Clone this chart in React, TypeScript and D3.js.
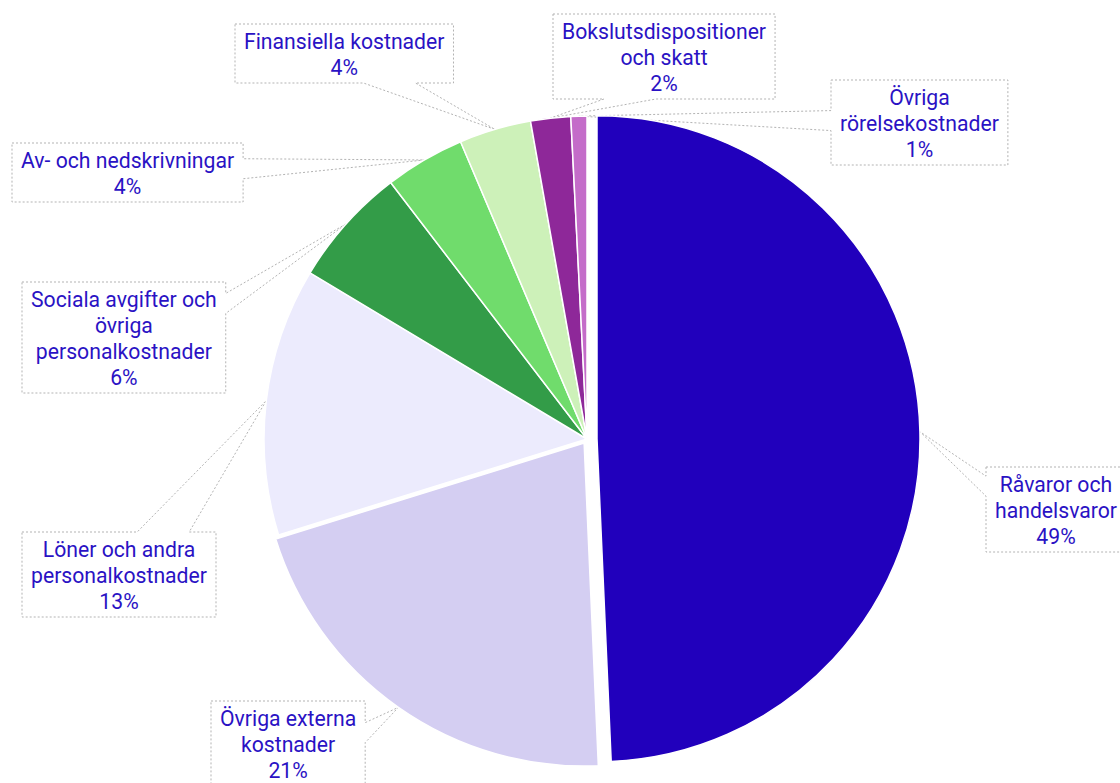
import React, { useEffect, useRef } from "react";
import * as d3 from "d3";

// ---- data ----
const categories = [
  "Råvaror och\nhandelsvaror",
  "Övriga externa\nkostnader",
  "Löner och andra\npersonalkostnader",
  "Sociala avgifter och\növriga\npersonalkostnader",
  "Av- och nedskrivningar",
  "Finansiella kostnader",
  "Bokslutsdispositioner\noch skatt",
  "Övriga\nrörelsekostnader",
];
const values = [49.3, 20.9, 13.4, 6.0, 4.0, 3.6, 2.0, 0.8];

// ---- styles / layout ----
const colors = ["#2100bc", "#d4cef2", "#ecebfd", "#339c48", "#70dc6c", "#cdf1b9", "#8e2899", "#c46cc9"];
const pulls = [10, 5, 0, 0, 0, 0, 0, 0];
// label box top-left corners
const labelBoxes: [number, number][] = [
  [986, 467],
  [211, 701],
  [22, 532],
  [22, 282],
  [12, 143],
  [235, 24],
  [553, 14],
  [831, 80],
];

const W = 1120;
const H = 783;
const CX = 587;
const CY = 439;
const R = 323;
const TEXT_COLOR = "#2a12c4";
const FONT = "Roboto, 'Noto Sans', sans-serif";
const FONT_SIZE = 21.2;
const LINE_H = 26;

export default function App() {
  const ref = useRef<SVGSVGElement>(null);

  useEffect(() => {
    const svg = d3.select(ref.current!);
    svg.selectAll("*").remove();

    const total = d3.sum(values);
    const arcs = d3
      .pie<number>()
      .sort(null)
      .value((d) => d)
      .startAngle(0)
      .endAngle(2 * Math.PI)(values);
    const arc = d3.arc<d3.PieArcDatum<number>>().innerRadius(0).outerRadius(R);

    const calloutG = svg.append("g");
    const pieG = svg.append("g").attr("transform", `translate(${CX},${CY})`);
    const textG = svg.append("g");

    arcs.forEach((p, i) => {
      const mid = (p.startAngle + p.endAngle) / 2;
      const ox = Math.sin(mid) * pulls[i];
      const oy = -Math.cos(mid) * pulls[i];
      pieG
        .append("path")
        .attr("d", arc(p) as string)
        .attr("transform", `translate(${ox},${oy})`)
        .attr("fill", colors[i])
        .attr("stroke", "#ffffff")
        .attr("stroke-width", 1.5)
        .attr("stroke-linejoin", "round");
    });

    arcs.forEach((p, i) => {
      const mid = (p.startAngle + p.endAngle) / 2;
      const ox = Math.sin(mid) * pulls[i];
      const oy = -Math.cos(mid) * pulls[i];
      const tx = CX + ox + Math.sin(mid) * R;
      const ty = CY + oy - Math.cos(mid) * R;

      const pct = Math.round((values[i] / total) * 100) + "%";
      const lines = [...categories[i].split("\n"), pct];
      const [x0, y0] = labelBoxes[i];

      const t = textG
        .append("text")
        .attr("font-family", FONT)
        .attr("font-size", FONT_SIZE)
        .attr("fill", TEXT_COLOR)
        .attr("text-anchor", "middle");
      const spans = lines.map((ln, k) =>
        t
          .append("tspan")
          .attr("y", y0 + 25 + k * LINE_H)
          .text(ln)
      );
      let maxW = 0;
      spans.forEach((s) => {
        const n = s.node() as SVGTSpanElement;
        maxW = Math.max(maxW, n.getComputedTextLength());
      });
      const bw = maxW + 18;
      const bh = lines.length * LINE_H + 7;
      const x1 = x0 + bw;
      const y1 = y0 + bh;
      spans.forEach((s) => s.attr("x", x0 + bw / 2));

      // callout side
      const dxOut = tx < x0 ? x0 - tx : tx > x1 ? tx - x1 : 0;
      const dyOut = ty < y0 ? y0 - ty : ty > y1 ? ty - y1 : 0;
      let side: string;
      if (dxOut >= dyOut) side = tx < x0 ? "left" : "right";
      else side = ty < y0 ? "top" : "bottom";

      const bcx = (x0 + x1) / 2;
      const bcy = (y0 + y1) / 2;
      let path = `M${x0},${y0}`;
      if (side === "top" || side === "bottom") {
        const hw = 26;
        let c = bcx + 0.3 * (tx - bcx);
        c = Math.max(x0 + 6 + hw, Math.min(x1 - 6 - hw, c));
        const b1 = c - hw;
        const b2 = c + hw;
        if (side === "top") path += `L${b1},${y0}L${tx},${ty}L${b2},${y0}`;
        path += `L${x1},${y0}L${x1},${y1}`;
        if (side === "bottom") path += `L${b2},${y1}L${tx},${ty}L${b1},${y1}`;
        path += `L${x0},${y1}Z`;
      } else {
        const hw = 10;
        let c = bcy + 0.3 * (ty - bcy);
        c = Math.max(y0 + 6 + hw, Math.min(y1 - 6 - hw, c));
        const b1 = c - hw;
        const b2 = c + hw;
        path += `L${x1},${y0}`;
        if (side === "right") path += `L${x1},${b1}L${tx},${ty}L${x1},${b2}`;
        path += `L${x1},${y1}L${x0},${y1}`;
        if (side === "left") path += `L${x0},${b2}L${tx},${ty}L${x0},${b1}`;
        path += `Z`;
      }
      calloutG
        .append("path")
        .attr("d", path)
        .attr("fill", "#ffffff")
        .attr("stroke", "#b3b3b3")
        .attr("stroke-width", 1)
        .attr("stroke-dasharray", "2,2");
    });
  }, []);

  return (
    <svg
      ref={ref}
      width={W}
      height={H}
      style={{ position: "absolute", left: 0, top: 0, background: "#ffffff" }}
    />
  );
}
